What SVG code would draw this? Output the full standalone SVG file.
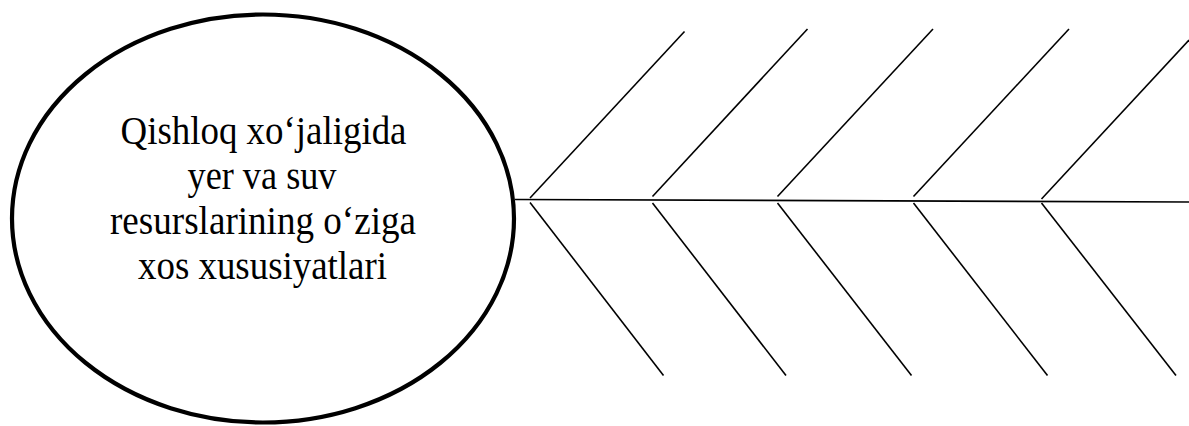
<svg xmlns="http://www.w3.org/2000/svg" width="1189" height="426" viewBox="0 0 1189 426">
<style>
.bone{stroke:#000;stroke-width:1.6;fill:none;stroke-linecap:butt}
.head{fill:#fff;stroke:#000;stroke-width:4.2}
.lbl{font-family:"Liberation Serif","Times New Roman",serif;font-size:39px;fill:#000;text-anchor:middle}
</style>
<rect width="1189" height="426" fill="#fff"/>
<g id="head-node">
<ellipse class="head" cx="263" cy="218.5" rx="251" ry="204"/>
<text class="lbl" x="263.5" y="143.5" textLength="286" lengthAdjust="spacingAndGlyphs">Qishloq xo‘jaligida</text>
<text class="lbl" x="262" y="188.5" textLength="149" lengthAdjust="spacingAndGlyphs">yer va suv</text>
<text class="lbl" x="263" y="233.5" textLength="306" lengthAdjust="spacingAndGlyphs">resurslarining o‘ziga</text>
<text class="lbl" x="262.5" y="278.5" textLength="249" lengthAdjust="spacingAndGlyphs">xos xususiyatlari</text>
</g>
<g id="connectors">
<line class="bone" x1="515" y1="199.5" x2="1189" y2="202"/>
<line class="bone" x1="530" y1="198" x2="684.5" y2="31.5"/>
<line class="bone" x1="530" y1="202.5" x2="663.5" y2="375.5"/>
<line class="bone" x1="652.5" y1="196.5" x2="807.5" y2="29"/>
<line class="bone" x1="652.5" y1="203" x2="786" y2="375.5"/>
<line class="bone" x1="777.5" y1="196.5" x2="933" y2="29"/>
<line class="bone" x1="777.5" y1="203" x2="911.5" y2="375.5"/>
<line class="bone" x1="913.5" y1="196.5" x2="1069" y2="29"/>
<line class="bone" x1="913.5" y1="203" x2="1047.5" y2="375.5"/>
<line class="bone" x1="1041.5" y1="199" x2="1189" y2="40"/>
<line class="bone" x1="1041.5" y1="203" x2="1176" y2="375.5"/>
</g>
</svg>
